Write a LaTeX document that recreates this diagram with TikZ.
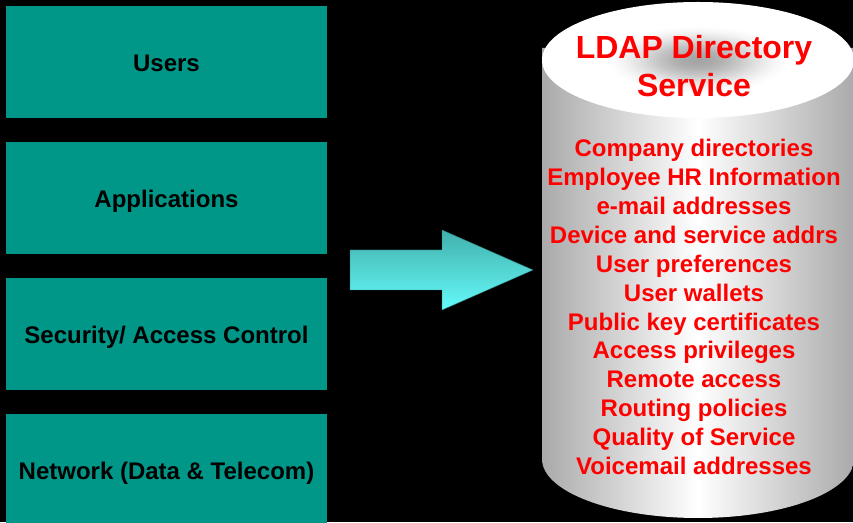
\documentclass[tikz,border=0pt]{standalone}
\usepackage{fontspec}
\setmainfont{Liberation Sans}
\definecolor{boxteal}{RGB}{0,150,136}
\definecolor{arrtop}{RGB}{66,176,172}
\definecolor{arrbot}{RGB}{100,250,250}
\definecolor{cylgray}{RGB}{170,170,170}
\definecolor{cylcenter}{RGB}{165,165,165}
\begin{document}
\begin{tikzpicture}[x=1pt,y=1pt,
  layerbox/.style={rectangle, fill=boxteal, minimum width=321pt, minimum height=112pt, inner sep=0pt,
    text height=24.4pt, text depth=5pt,
    font=\fontsize{24}{28}\selectfont\bfseries, text=black},
  redtext/.style={text=red, align=center, inner sep=0pt}]
\useasboundingbox (0,0) rectangle (853,522);
\clip (0,0) rectangle (853,522);
\fill[black] (0,0) rectangle (853,522);
% left boxes
\node[layerbox] (users) at (166.5,460) {Users};
\node[layerbox] (apps) at (166.5,324) {Applications};
\node[layerbox] (sec) at (166.5,188) {Security/ Access Control};
\node[layerbox] (net) at (166.5,52) {Network (Data \& Telecom)};
% arrow
\shade[top color=arrtop, bottom color=arrbot, draw=arrtop!70!black, line width=0.4pt]
  (350,272) -- (442,272) -- (442,292) -- (533,252) -- (442,212) -- (442,232) -- (350,232) -- cycle;
% cylinder body
\shade[left color=cylgray, right color=cylgray, middle color=white]
  (542,474) -- (542,63) arc[start angle=180, end angle=360, x radius=156pt, y radius=59pt] -- (854,474) -- cycle;
% top ellipse with soft grey centre
\fill[white] (698,462) ellipse [x radius=156pt, y radius=58pt];
\foreach \k in {0,...,29}{
  \pgfmathsetmacro{\f}{0.62*(1-\k/30)}
  \pgfmathsetmacro{\p}{100*(\k/29)*(\k/29)*(3-2*\k/29)}
  \fill[cylcenter!\p!white] (698,462) ellipse [x radius={156*\f*1pt}, y radius={58*\f*1pt}];
}
% texts
\node[redtext, font=\fontsize{32}{38}\selectfont\bfseries] (title) at (694,456) {LDAP Directory\\Service};
\node[redtext, font=\fontsize{24}{28.9}\selectfont\bfseries] (items) at (694,215)
  {Company directories\\Employee HR Information\\e-mail addresses\\Device and service addrs\\User preferences\\User wallets\\Public key certificates\\Access privileges\\Remote access\\Routing policies\\Quality of Service\\Voicemail addresses};
\end{tikzpicture}
\end{document}
